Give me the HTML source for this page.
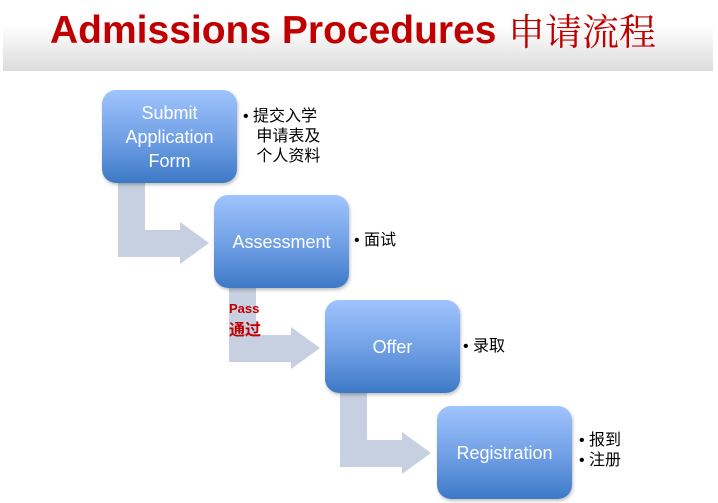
<!DOCTYPE html>
<html><head><meta charset="utf-8"><style>
body{margin:0;width:718px;height:503px;background:#fff;position:relative;overflow:hidden;font-family:"Liberation Sans","Noto Sans CJK SC",sans-serif}
.hdr{position:absolute;left:3px;top:0;width:710px;height:71px;background:linear-gradient(#fff 0%,#fff 35%,#dcdcdc 100%)}
.t{position:absolute;left:50px;top:9px;font-size:39px;font-weight:bold;color:#c00000;white-space:nowrap}
.tc{position:absolute;left:508px;top:2px;font-size:37px;color:#c00000;font-family:"Liberation Serif","Noto Serif CJK SC",serif;white-space:nowrap}
.b{position:absolute;width:135px;height:93px;border-radius:14px;background:linear-gradient(#a0c4fd,#6e9ee4 55%,#3d79c6);box-shadow:1px 2px 3px rgba(0,0,0,.25);color:#fff;font-size:18px;display:flex;align-items:center;justify-content:center;text-align:center;line-height:24px}
.n{position:absolute;font-size:16px;line-height:20px;color:#000;white-space:nowrap}
</style></head><body>
<div class="hdr"></div>
<div class="t">Admissions Procedures</div>
<div class="tc">申请流程</div>
<svg width="718" height="503" style="position:absolute;left:0;top:0">
<g fill="#c6d0e0">
<path d="M118 183H145V230H180V222L209 243L180 264V257H118Z"/>
<path d="M229 288H256V335H291V327L320 348L291 369V362H229Z"/>
<path d="M340 393H367V440H402V432L431 453L402 474V467H340Z"/>
</g></svg>
<div class="b" style="left:102px;top:90px">Submit<br>Application<br>Form</div>
<div class="b" style="left:214px;top:195px">Assessment</div>
<div class="b" style="left:325px;top:300px">Offer</div>
<div class="b" style="left:437px;top:406px">Registration</div>
<div class="n" style="left:243px;top:107px">• 提交入学<br>&nbsp;&nbsp;&nbsp;申请表及<br>&nbsp;&nbsp;&nbsp;个人资料</div>
<div class="n" style="left:354px;top:231px">• 面试</div>
<div class="n" style="left:463px;top:337px">• 录取</div>
<div class="n" style="left:579px;top:431px">• 报到<br>• 注册</div>
<div style="position:absolute;left:229px;top:301px;color:#c00000;font-weight:bold;font-size:13px">Pass</div>
<div style="position:absolute;left:229px;top:316px;color:#c00000;font-weight:bold;font-size:16px">通过</div>
</body></html>
